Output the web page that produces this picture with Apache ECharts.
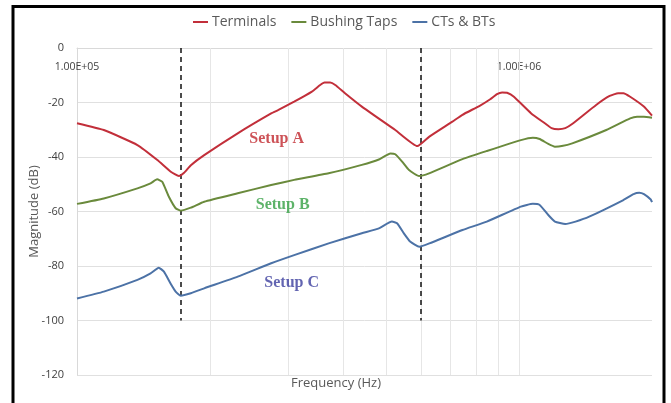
<!DOCTYPE html>
<html>
<head>
<meta charset="utf-8">
<script src="https://cdn.jsdelivr.net/npm/echarts@6/dist/echarts.min.js"></script>
<style>
  html, body { margin: 0; padding: 0; background: #ffffff; }
  #chart { width: 671px; height: 403px; }
</style>
</head>
<body>
<div id="chart"></div>
<script>
// Frequency response of the three measurement setups (frequency in Hz, magnitude in dB)
const terminals = [
  [1.00e5, -27.6], [1.15e5, -30.1], [1.37e5, -35.6], [1.52e5, -41.1], [1.63e5, -45.4],
  [1.70e5, -47.0], [1.747e5, -45.8], [1.81e5, -43.0], [1.94e5, -39.3], [2.31e5, -31.3],
  [2.75e5, -24.0], [2.85e5, -22.8], [3.10e5, -19.7], [3.40e5, -16.0], [3.55e5, -13.6],
  [3.63e5, -12.7], [3.74e5, -12.7], [3.84e5, -13.6], [4.04e5, -16.6], [4.41e5, -21.5],
  [5.25e5, -30.1], [5.89e5, -36.0], [6.27e5, -32.5], [7.07e5, -27.0], [7.45e5, -24.5],
  [8.15e5, -21.2], [8.61e5, -18.8], [8.92e5, -16.9], [9.16e5, -16.3], [9.40e5, -16.4],
  [9.74e5, -17.9], [1.066e6, -24.0], [1.144e6, -27.6], [1.185e6, -29.4], [1.228e6, -29.8],
  [1.273e6, -29.4], [1.319e6, -27.9], [1.495e6, -20.9], [1.604e6, -17.6], [1.677e6, -16.6],
  [1.723e6, -16.6], [1.785e6, -17.9], [1.917e6, -21.5], [2.00e6, -24.8]
];
const bushingTaps = [
  [1.00e5, -57.2], [1.15e5, -55.2], [1.37e5, -51.5], [1.467e5, -49.7], [1.518e5, -48.2],
  [1.559e5, -49.1], [1.614e5, -54.6], [1.672e5, -58.8], [1.717e5, -59.7], [1.809e5, -58.6],
  [1.94e5, -56.4], [2.31e5, -53.3], [2.75e5, -50.3], [3.10e5, -48.4], [3.71e5, -46.0],
  [4.41e5, -42.9], [4.82e5, -40.9], [5.12e5, -38.7], [5.25e5, -39.0], [5.44e5, -41.7],
  [5.64e5, -44.8], [5.94e5, -47.0], [6.26e5, -46.0], [7.45e5, -40.8], [8.46e5, -37.8],
  [1.010e6, -33.8], [1.075e6, -32.9], [1.114e6, -33.4], [1.165e6, -35.2], [1.206e6, -36.2],
  [1.250e6, -36.0], [1.32e6, -35.0], [1.576e6, -30.1], [1.785e6, -25.8], [1.850e6, -25.2],
  [1.917e6, -25.2], [2.00e6, -25.6]
];
const ctsBts = [
  [1.00e5, -91.9], [1.15e5, -89.4], [1.37e5, -85.1], [1.467e5, -82.7], [1.531e5, -80.6],
  [1.573e5, -82.1], [1.628e5, -86.4], [1.672e5, -89.4], [1.717e5, -90.9], [1.809e5, -90.0],
  [1.94e5, -88.2], [2.31e5, -83.9], [2.75e5, -79.0], [3.10e5, -76.0], [3.71e5, -71.7],
  [4.41e5, -68.0], [4.82e5, -66.2], [5.16e5, -63.7], [5.30e5, -64.3], [5.49e5, -68.0],
  [5.68e5, -71.1], [5.95e5, -72.9], [6.27e5, -71.7], [7.45e5, -66.8], [8.46e5, -63.7],
  [1.010e6, -58.2], [1.075e6, -57.2], [1.114e6, -57.6], [1.165e6, -61.3], [1.206e6, -63.7],
  [1.273e6, -64.6], [1.343e6, -63.7], [1.442e6, -61.9], [1.723e6, -55.8], [1.817e6, -53.6],
  [1.871e6, -53.1], [1.918e6, -53.6], [1.987e6, -55.6], [2.00e6, -56.6]
];

const seriesNames = ['Terminals', 'Bushing Taps', 'CTs & BTs'];

// Axis ranges and gridlines
const freqRange = [1e5, 2e6];
const magRange = [-120, 0];
const magStep = 20;
const minorFreqs = [2e5, 3e5, 4e5, 5e5, 6e5, 7e5, 8e5, 9e5, 1e6];

// Dashed boundaries between frequency regions
const dividerFreqs = [1.72e5, 5.98e5];
const dividerSpan = [0, -100];

// Setup labels: [text, frequency, magnitude]
const setupLabels = [
  ['Setup A', 2.83e5, -33.4],
  ['Setup B', 2.92e5, -57.6],
  ['Setup C', 3.06e5, -86.2]
];

const lineColors = ['#c22f3a', '#6a8a3c', '#4c72a6'];
const labelColors = ['#c0272d', '#35a043', '#3b3d9e'];

function sciLabel(v) {
  const e = Math.round(Math.log10(v));
  if (Math.abs(v - Math.pow(10, e)) > 1e-6 * v) return '';
  const m = v / Math.pow(10, e);
  const es = (e < 0 ? '-' : '+') + String(Math.abs(e)).padStart(2, '0');
  return m.toFixed(2) + 'E' + es;
}

const chart = echarts.init(document.getElementById('chart'), null, { renderer: 'canvas' });

const textFont = 'Open Sans';
const curves = [terminals, bushingTaps, ctsBts].map((d, i) => ({
  name: seriesNames[i],
  type: 'line',
  data: d,
  smooth: 0.15,
  showSymbol: false,
  symbol: 'none',
  lineStyle: { color: lineColors[i], width: 2 },
  itemStyle: { color: lineColors[i] },
  z: 5
}));

const guideSeries = {
  name: 'guides',
  type: 'line',
  data: [],
  silent: true,
  z: 1,
  markLine: {
    silent: true,
    symbol: 'none',
    label: { show: false },
    lineStyle: { color: '#e6e6e6', width: 1, type: 'solid' },
    data: minorFreqs.map(f => ({ xAxis: f }))
  }
};

const dividerSeries = {
  name: 'dividers',
  type: 'line',
  data: [],
  silent: true,
  z: 6,
  markLine: {
    silent: true,
    symbol: 'none',
    label: { show: false },
    lineStyle: { color: '#111111', width: 1.5, type: [5, 4] },
    data: dividerFreqs.map(f => [{ coord: [f, dividerSpan[0]] }, { coord: [f, dividerSpan[1]] }])
  }
};

const labelSeries = {
  name: 'setups',
  type: 'scatter',
  silent: true,
  symbolSize: 0,
  data: setupLabels.map((s, i) => ({
    value: [s[1], s[2]],
    label: {
      show: true,
      position: 'inside',
      formatter: s[0],
      color: labelColors[i],
      fontFamily: 'Liberation Serif',
      fontWeight: 'bold',
      fontSize: 16
    }
  })),
  z: 7
};

chart.setOption({
  animation: false,
  backgroundColor: '#ffffff',
  legend: {
    data: seriesNames,
    top: 15,
    left: 193,
    padding: 0,
    icon: 'rect',
    itemWidth: 15,
    itemHeight: 2,
    itemGap: 15,
    textStyle: { color: '#595959', fontSize: 14, fontFamily: textFont, padding: [0, 0, 0, -1] }
  },
  grid: { left: 77, right: 19, top: 48, bottom: 28, containLabel: false },
  xAxis: {
    type: 'log',
    logBase: 10,
    position: 'top',
    min: freqRange[0],
    max: freqRange[1],
    axisLine: { show: true, onZero: false, lineStyle: { color: '#d9d9d9', width: 1 } },
    axisTick: { show: false },
    splitLine: { show: false },
    axisLabel: {
      inside: true,
      color: '#404040',
      fontSize: 10.5,
      fontFamily: textFont,
      margin: 14,
      formatter: sciLabel
    }
  },
  yAxis: {
    type: 'value',
    min: magRange[0],
    max: magRange[1],
    interval: magStep,
    name: 'Magnitude (dB)',
    nameLocation: 'middle',
    nameGap: 36,
    nameMoveOverlap: false,
    nameTextStyle: { color: '#595959', fontSize: 13, fontFamily: textFont },
    axisLine: { show: true, lineStyle: { color: '#d9d9d9' } },
    axisTick: { show: false },
    splitLine: { show: true, lineStyle: { color: '#e0e0e0', width: 1 } },
    axisLabel: { color: '#404040', fontSize: 11, fontFamily: textFont, margin: 13 }
  },
  graphic: [
    {
      type: 'text',
      left: 291,
      top: 377,
      style: { text: 'Frequency (Hz)', fill: '#595959', font: '13px "Open Sans"' }
    },
    {
      type: 'rect',
      shape: { x: 13, y: 6.5, width: 651, height: 410 },
      style: { fill: 'none', stroke: '#000000', lineWidth: 3 },
      silent: true,
      z: 100
    }
  ],
  series: [guideSeries, ...curves, dividerSeries, labelSeries]
});
</script>
</body>
</html>
